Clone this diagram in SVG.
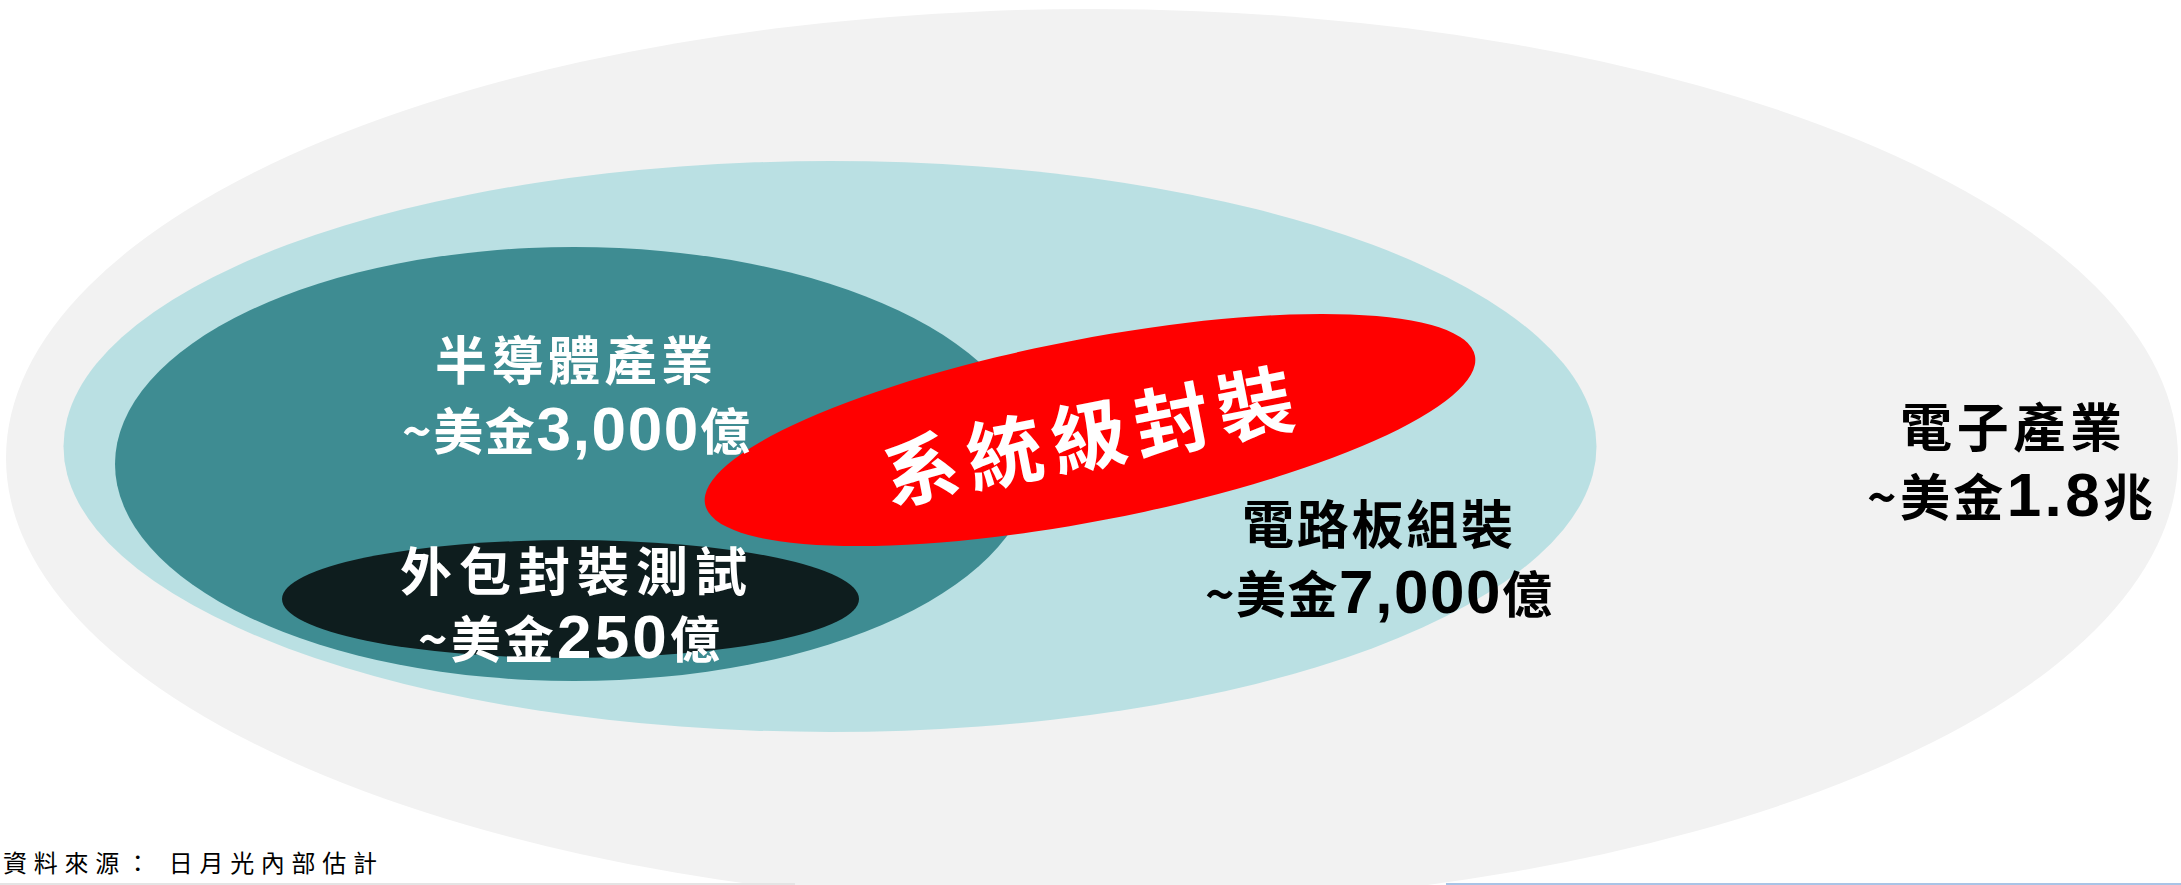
<svg xmlns="http://www.w3.org/2000/svg" width="2181" height="885" viewBox="0 0 2181 885">
  <style>
    .cjk { font-family: "Noto Sans CJK TC", "Noto Sans CJK SC", sans-serif; font-weight: 700; }
    .num { font-family: "Liberation Sans", Arial, sans-serif; font-weight: 700; font-size: 62px; }
    .w { fill: #FFFFFF; }
    .k { fill: #000000; }
    .note { font-family: "Noto Sans CJK TC", "Noto Sans CJK SC", sans-serif; font-weight: 400; font-size: 24px; fill: #000000; }
  </style>
  <rect x="0" y="0" width="2181" height="885" fill="#FFFFFF"/>
  <g id="electronics">
    <ellipse cx="1092" cy="458" rx="1086" ry="449" fill="#F2F2F2"/>
  </g>
  <g id="pcb-assembly">
    <ellipse cx="830" cy="446.5" rx="766.5" ry="285.5" fill="#BAE0E3"/>
  </g>
  <g id="semiconductor">
    <ellipse cx="574" cy="464" rx="459" ry="217" fill="#3E8C92"/>
  </g>
  <g id="osat">
    <ellipse cx="570.5" cy="599" rx="288.5" ry="59" fill="#0E1D1E"/>
  </g>
  <g id="sip">
    <ellipse cx="1090" cy="430" rx="392" ry="91" fill="#FF0000" transform="rotate(-10.9 1090 430)"/>
    <text class="cjk w" x="1093" y="464" font-size="76" text-anchor="middle" letter-spacing="9" transform="rotate(-11 1093 437)">系統級封裝</text>
  </g>
  <g id="labels">
    <text class="cjk w" x="435" y="380" font-size="52" textLength="278" lengthAdjust="spacing">半導體產業</text>
    <text class="cjk w" x="402" y="450" font-size="50" textLength="348" lengthAdjust="spacing">~美金<tspan class="num">3,000</tspan>億</text>
    <text class="cjk w" x="400" y="591" font-size="52" textLength="347" lengthAdjust="spacing">外包封裝測試</text>
    <text class="cjk w" x="418" y="658" font-size="50" textLength="302" lengthAdjust="spacing">~美金<tspan class="num">250</tspan>億</text>
    <text class="cjk k" x="1242" y="544" font-size="52" textLength="271" lengthAdjust="spacing">電路板組裝</text>
    <text class="cjk k" x="1205" y="613" font-size="50" textLength="347" lengthAdjust="spacing">~美金<tspan class="num">7,000</tspan>億</text>
    <text class="cjk k" x="1900" y="447" font-size="52" textLength="222" lengthAdjust="spacing">電子產業</text>
    <text class="cjk k" x="1867" y="516" font-size="50" textLength="286" lengthAdjust="spacing">~美金<tspan class="num">1.8</tspan>兆</text>
  </g>
  <g id="source">
    <text class="note" x="3" y="872" textLength="374" lengthAdjust="spacing">資料來源： 日月光內部估計</text>
  </g>
  <g id="connectors"></g>
  <rect x="0" y="883" width="795" height="2" fill="#E4E4E4"/>
  <rect x="1446" y="883" width="735" height="2" fill="#A9C4E6"/>
</svg>
